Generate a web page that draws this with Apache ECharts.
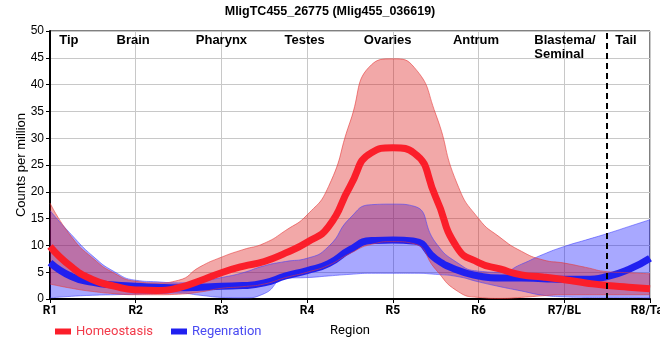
<!DOCTYPE html>
<html>
<head>
<meta charset="utf-8">
<script src="https://cdn.jsdelivr.net/npm/echarts@6/dist/echarts.min.js"></script>
<style>html,body{margin:0;padding:0;background:#fff}#c{width:660px;height:360px}</style>
</head>
<body>
<div id="c"></div>
<script>
// Positions along the body (quarter steps between regions)
const positions = [1,1.25,1.5,1.75,2,2.25,2.5,2.75,3,3.25,3.5,3.75,4,4.25,4.5,4.75,5,5.25,5.5,5.75,6,6.25,6.5,6.75,7,7.25,7.5,7.75,8];
const tickLabels = ['R1','R2','R3','R4','R5','R6','R7/BL','R8/Tail'];
const regionNames = ['Tip','Brain','Pharynx','Testes','Ovaries','Antrum','Blastema/\nSeminal','Tail'];
const titleText = 'MligTC455_26775 (Mlig455_036619)';

// Homeostasis
const homMean  = [9.8,6.0,3.6,2.4,1.7,1.6,2.1,3.4,4.9,6.1,7.0,8.6,10.6,13.5,21.0,27.3,28.2,27.2,19.0,9.6,6.8,5.6,4.5,4.1,3.6,3.0,2.5,2.2,1.9];
const homUpper = [17.9,11.6,7.6,4.8,3.3,3.0,3.5,6.0,7.8,9.2,10.4,12.8,15.7,21.0,33.0,43.7,44.8,43.2,34.5,21.5,15.0,11.5,8.9,7.3,6.7,5.9,5.1,4.9,4.7];
const homLower = [2.8,2.0,1.4,1.0,0.8,0.8,0.9,1.3,2.0,2.3,2.8,4.0,5.0,6.3,8.5,10.2,10.7,10.3,5.5,1.5,0.3,0.1,0.3,0.6,0.8,0.8,0.8,0.8,0.8];

// Regeneration
const regMean  = [6.8,4.2,3.1,2.6,2.4,2.2,2.1,2.2,2.4,2.5,3.0,4.3,5.3,6.6,9.2,10.9,11.0,10.8,7.5,5.4,4.3,3.9,3.9,3.8,3.7,3.7,4.2,5.5,7.6];
const regUpper = [16.5,12.0,8.0,5.1,3.5,3.2,3.0,3.3,4.0,4.9,6.2,7.0,7.6,9.8,15.1,17.6,17.7,17.3,10.5,6.8,5.2,5.0,6.5,8.3,9.8,11.0,12.2,13.5,14.8];
const regLower = [0.2,0.5,0.7,0.8,0.9,1.0,1.1,0.7,0.3,0.2,1.0,3.9,4.0,4.3,4.6,4.8,4.8,4.8,4.6,4.2,3.2,2.3,1.5,0.7,0.4,0.3,0.3,0.3,0.2];

const seriesNames = ['Homeostasis','Regenration'];
const boundaryPos = 7.5; // tail boundary

const categories = positions.map(p => Number.isInteger(p) ? tickLabels[p-1] : '');
const diff = (u,l) => u.map((v,i) => +(v - l[i]).toFixed(3));

const chart = echarts.init(document.getElementById('c'), null, {renderer:'canvas'});

const GRID = {left:50, right:10, top:31, bottom:61};
const RED_FILL = 'rgba(220,20,20,0.37)';
const BLUE_FILL = 'rgba(0,0,255,0.34)';
const SMOOTH = 0.55;

function band(name, lower, upper, fill, edge, stack){
  return [
    {type:'line', name:name+'_lo', stack:stack, data:lower, smooth:SMOOTH, symbol:'none', silent:true,
     lineStyle:{color:edge, width:1}, areaStyle:null},
    {type:'line', name:name+'_hi', stack:stack, data:diff(upper,lower), smooth:SMOOTH, symbol:'none', silent:true,
     lineStyle:{color:edge, width:1}, areaStyle:{color:fill, opacity:1}}
  ];
}

const option = {
  animation:false,
  backgroundColor:'#fff',
  title:{text:titleText, left:'center', top:0,
    textStyle:{fontFamily:'Liberation Sans, Arial', fontWeight:'bold', fontSize:12.5, color:'#000'}},
  legend:{left:50, top:320, itemWidth:16, itemHeight:6, itemGap:18, icon:'rect',
    data:[{name:seriesNames[0], textStyle:{color:'#f23a4a'}},{name:seriesNames[1], textStyle:{color:'#4a4af2'}}],
    textStyle:{fontFamily:'Roboto', fontSize:13}},
  grid:{left:GRID.left, right:GRID.right, top:GRID.top, bottom:GRID.bottom, show:true, borderColor:'#000', borderWidth:1,
    containLabel:false, outerBoundsMode:'none'},
  xAxis:{type:'category', data:categories, boundaryGap:false,
    name:'Region', nameLocation:'middle', nameGap:25, nameMoveOverlap:false,
    nameTextStyle:{fontFamily:'Roboto', fontSize:13, color:'#000'},
    axisLine:{lineStyle:{color:'#000', width:2}},
    axisTick:{show:true, interval:3, length:4, lineStyle:{color:'#000', width:1}},
    axisLabel:{interval:3, margin:6, color:'#000', fontFamily:'Roboto', fontWeight:'bold', fontSize:12},
    splitLine:{show:true, interval:3, lineStyle:{color:'#c8c8c8', width:1}}},
  yAxis:{type:'value', min:0, max:50, interval:5,
    name:'Counts per million', nameLocation:'middle', nameGap:22, nameMoveOverlap:false,
    nameTextStyle:{fontFamily:'Liberation Sans, Arial', fontSize:13, color:'#000'},
    axisLine:{show:true, lineStyle:{color:'#000', width:2}},
    axisTick:{show:true, length:4, lineStyle:{color:'#000'}},
    axisLabel:{margin:6, color:'#000', fontFamily:'Liberation Sans, Arial', fontSize:12},
    splitLine:{show:true, lineStyle:{color:'#c8c8c8', width:1}}},
  series:[
    ...band('reg', regLower, regUpper, BLUE_FILL, 'rgba(60,60,255,0.55)', 'regBand'),
    {type:'line', name:seriesNames[1], data:regMean, smooth:SMOOTH, symbol:'none', color:'#2020f0',
     lineStyle:{color:'#2020f0', width:7}},
    ...band('hom', homLower, homUpper, RED_FILL, 'rgba(230,60,60,0.6)', 'homBand'),
    {type:'line', name:seriesNames[0], data:homMean, smooth:SMOOTH, symbol:'none', color:'#fb1e2a',
     lineStyle:{color:'#fb1e2a', width:7},
     markLine:{silent:true, symbol:'none', label:{show:false},
       lineStyle:{color:'#000', width:2, type:[6,4]},
       data:[{xAxis: positions.indexOf(boundaryPos)}]}}
  ]
};
chart.setOption(option);

// region labels along the top of the plot
const regionCenters = [1.22,1.97,3.0,3.97,4.94,5.97,6.65,7.72];
const plotW = 660 - GRID.left - GRID.right;
const gEls = regionNames.map((t,i) => {
  const x = GRID.left + (regionCenters[i]-1)/7*plotW;
  const isLeft = t.indexOf('\n') >= 0;
  return {type:'text', x:x, y:33,
    style:{text:t, fill:'#000', font:'bold 13px "Liberation Sans", Arial', textAlign: isLeft ? 'left' : 'center', lineHeight:14}};
});
chart.setOption({graphic:{elements:gEls}});
</script>
</body>
</html>
